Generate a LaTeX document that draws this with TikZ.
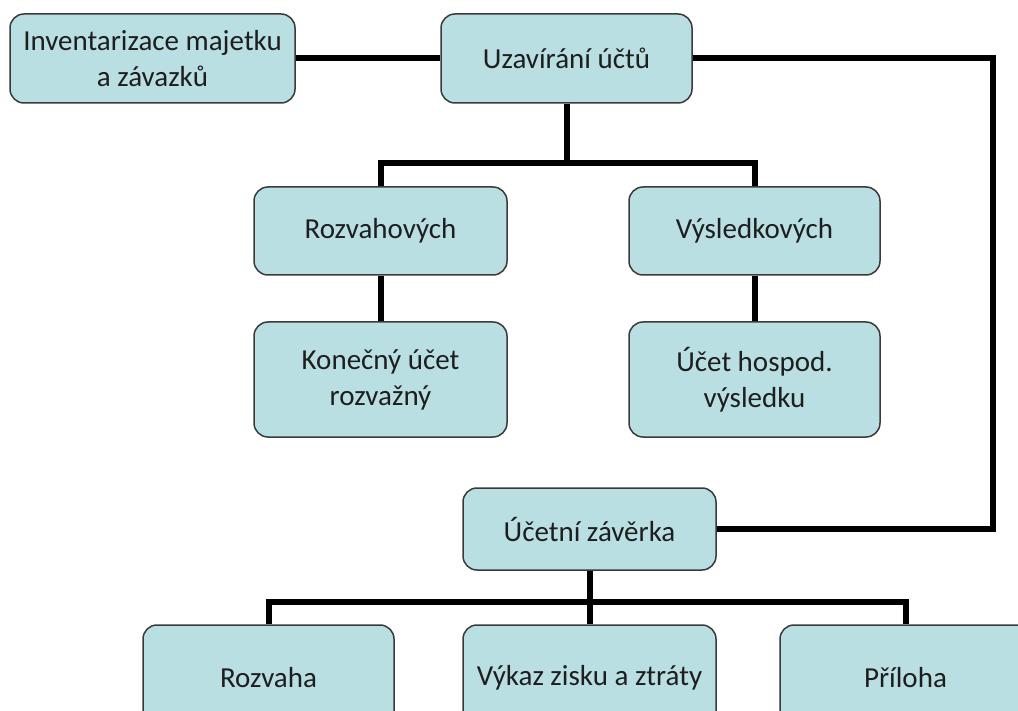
\documentclass[tikz,border=0pt]{standalone}
\usepackage{fontspec}
\setmainfont{Carlito}
\definecolor{boxfill}{HTML}{B9DFE2}
\definecolor{boxline}{HTML}{3A3A3A}
\definecolor{txt}{HTML}{1E1E1E}
\begin{document}
\begin{tikzpicture}[x=1pt,y=-1pt,
  box/.style={draw=boxline,line width=1.5pt,fill=boxfill,rounded corners=14pt,
    align=center,inner sep=0pt,text=txt,font=\fontsize{29}{36}\selectfont},
  conn/.style={line width=6pt,black}]
\clip (0,0) rectangle (1018,711);
\fill[white] (0,0) rectangle (1018,711);
\node[box,minimum width=285pt,minimum height=89pt] (inv) at (152.5,58.5) {Inventarizace majetku\\a závazků};
\node[box,minimum width=251pt,minimum height=89pt] (uz) at (566.5,58.5) {Uzavírání účtů};
\node[box,minimum width=253pt,minimum height=88pt] (rozv) at (380.5,231) {Rozvahových};
\node[box,minimum width=251pt,minimum height=88pt] (vysl) at (754.5,231) {Výsledkových};
\node[box,minimum width=253pt,minimum height=115pt] (kon) at (380.5,379.5) {Konečný účet\\rozvažný};
\node[box,minimum width=251pt,minimum height=115pt] (ucet) at (754.5,379.5) {Účet hospod.\\výsledku};
\node[box,minimum width=253pt,minimum height=82pt] (zav) at (589.5,529) {Účetní závěrka};
\node[box,minimum width=251pt,minimum height=106pt] (rozvaha) at (268.5,678) {Rozvaha};
\node[box,minimum width=253pt,minimum height=106pt] (vykaz) at (589.5,678) {Výkaz zisku a ztráty};
\node[box,minimum width=251pt,minimum height=106pt] (priloha) at (905.5,678) {Příloha};
\coordinate (busA) at (566.5,163);
\coordinate (busB) at (589.5,602);
\coordinate (rc) at (993,58.5);
\draw[conn] (inv.east) -- (uz.west);
\draw[conn] (uz.east) -- (rc) |- (zav.east);
\draw[conn] (uz.south) -- (busA);
\draw[conn] (rozv.north) |- (busA) -| (vysl.north);
\draw[conn] (rozv.south) -- (kon.north);
\draw[conn] (vysl.south) -- (ucet.north);
\draw[conn] (zav.south) -- (vykaz.north);
\draw[conn] (rozvaha.north) |- (busB) -| (priloha.north);
\end{tikzpicture}
\end{document}
